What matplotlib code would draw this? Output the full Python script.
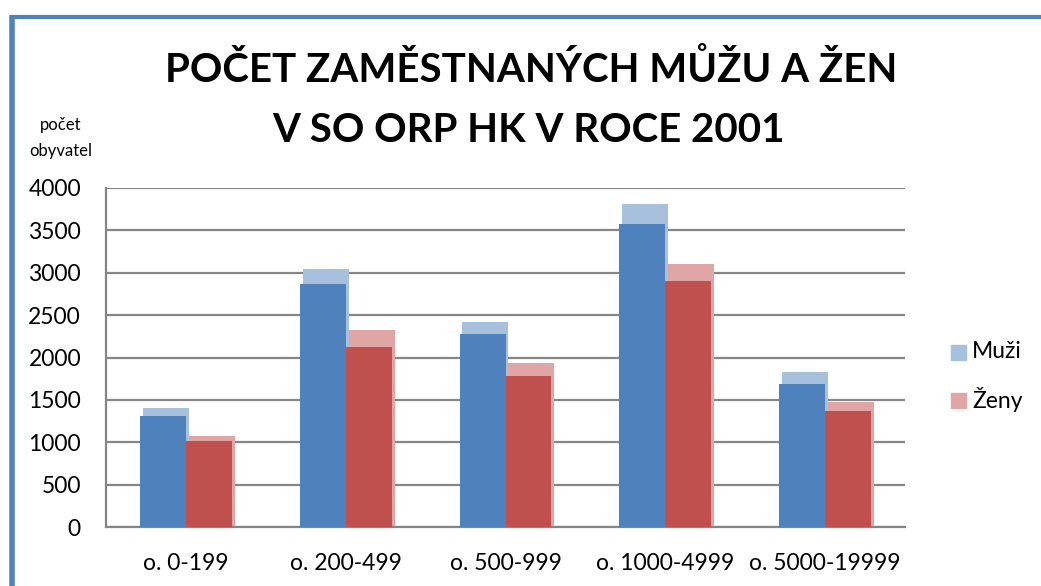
import matplotlib
matplotlib.use("Agg")
import matplotlib.pyplot as plt
from matplotlib.lines import Line2D
import numpy as np

plt.rcParams['font.family'] = ['Lato', 'DejaVu Sans']

categories = ["o. 0-199", "o. 200-499", "o. 500-999", "o. 1000-4999", "o. 5000-19999"]
muzi_top = [1400, 3050, 2415, 3815, 1825]
muzi_front = [1305, 2870, 2275, 3580, 1685]
zeny_top = [1075, 2320, 1940, 3105, 1475]
zeny_front = [1010, 2125, 1785, 2905, 1370]
yticks = [0, 500, 1000, 1500, 2000, 2500, 3000, 3500, 4000]
ytick_labels = ["0", "500", "1000", "1500", "2000", "2500", "3000", "3500", "4000"]

W, H = 1041, 586
fig = plt.figure(figsize=(W/100, H/100), dpi=100)
ax = fig.add_axes([106/W, 1-527/H, (905-106)/W, (527-188)/H])

x = np.arange(len(categories))
bw = 0.2875
off = 0.018
c_blue, c_blue_l = "#4F81BD", "#A7C0DE"
c_red, c_red_l = "#C0504D", "#E0A5A5"

ax.bar(x - bw/2 + off, muzi_top, width=bw, color=c_blue_l, zorder=2)
ax.bar(x + bw/2 + off, zeny_top, width=bw, color=c_red_l, zorder=2)
ax.bar(x - bw/2, muzi_front, width=bw, color=c_blue, zorder=3)
ax.bar(x + bw/2, zeny_front, width=bw, color=c_red, zorder=3)

ax.set_xlim(-0.5, 4.5)
ax.set_ylim(0, 4000)
ax.set_yticks(yticks)
ax.set_yticklabels(ytick_labels)
ax.set_xticks(x)
ax.set_xticklabels(categories)
ax.yaxis.grid(True, color="#868686", lw=1.6, zorder=0)
ax.set_axisbelow(True)
for s in ["top", "right"]:
    ax.spines[s].set_visible(False)
for s in ["left", "bottom"]:
    ax.spines[s].set_color("#868686")
    ax.spines[s].set_linewidth(1.6)
ax.tick_params(axis="y", length=0, pad=18, labelsize=16.5)
ax.tick_params(axis="x", length=0, pad=19, labelsize=16.5)

fig.text(531/W, 1-82/H, "POČET ZAMĚSTNANÝCH MŮŽU A ŽEN", ha="center", va="baseline",
         fontsize=29, fontweight="bold")
fig.text(528/W, 1-142/H, "V SO ORP HK V ROCE 2001", ha="center", va="baseline",
         fontsize=29, fontweight="bold")
fig.text(61/W, 1-125/H, "počet", ha="center", va="center", fontsize=12)
fig.text(61/W, 1-151/H, "obyvatel", ha="center", va="center", fontsize=12)

# legend
from matplotlib.patches import Rectangle
for yy, col, lab in [(352, c_blue_l, "Muži"), (400, c_red_l, "Ženy")]:
    fig.patches.append(Rectangle((951/W, 1-(yy+7.5)/H), 15/W, 15/H, transform=fig.transFigure,
                                 color=col, figure=fig))
    fig.text(972/W, 1-yy/H, lab, ha="left", va="center", fontsize=16.5)

# frame border (top & left)
fig.add_artist(Line2D([12/W, 1.0], [1-17/H, 1-17/H], transform=fig.transFigure,
                      color="#4F81BD", lw=3, solid_capstyle="butt"))
fig.add_artist(Line2D([12/W, 12/W], [1-15/H, 0], transform=fig.transFigure,
                      color="#4F81BD", lw=4, solid_capstyle="butt"))

fig.savefig("out.png", dpi=100)
